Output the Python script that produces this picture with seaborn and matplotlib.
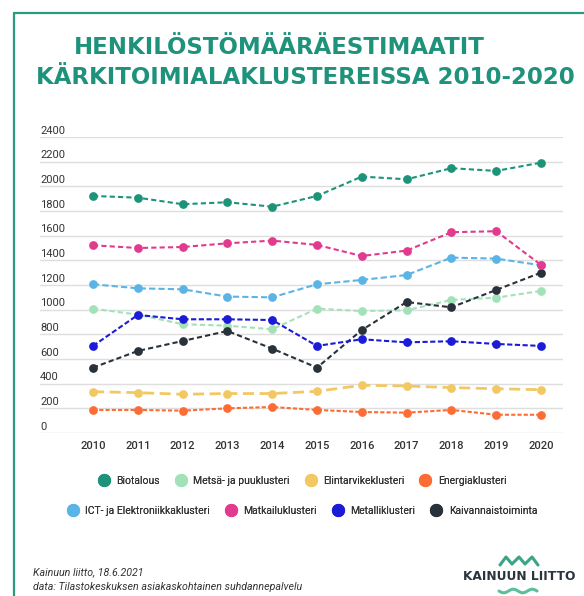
import numpy as np
import pandas as pd
import matplotlib.pyplot as plt
from matplotlib.lines import Line2D
import matplotlib.transforms as mtransforms
import seaborn as sns

years = [2010, 2011, 2012, 2013, 2014, 2015, 2016, 2017, 2018, 2019, 2020]

biotalous = [1922, 1908, 1855, 1871, 1835, 1922, 2079, 2057, 2147, 2125, 2192]
metsa = [1008, 960, 882, 870, 841, 1008, 989, 995, 1079, 1097, 1152]
elintarvike = [335, 327, 314, 320, 320, 338, 387, 381, 368, 359, 351]
energia = [187, 187, 181, 200, 211, 187, 170, 165, 187, 148, 148]
ict = [1206, 1173, 1165, 1106, 1100, 1206, 1241, 1281, 1422, 1414, 1360]
matkailu = [1522, 1500, 1508, 1538, 1560, 1525, 1435, 1479, 1628, 1636, 1363]
metalli = [706, 957, 922, 922, 916, 706, 760, 735, 744, 722, 706]
kaivannais = [530, 665, 746, 827, 684, 530, 835, 1062, 1019, 1160, 1300]

names = ["Biotalous", "Metsä- ja puuklusteri", "Elintarvikeklusteri", "Energiaklusteri",
         "ICT- ja Elektroniikkaklusteri", "Matkailuklusteri", "Metalliklusteri", "Kaivannaistoiminta"]
series = [biotalous, metsa, elintarvike, energia, ict, matkailu, metalli, kaivannais]
colors = ["#1d9479", "#a3e2b9", "#f2c863", "#fd6c35", "#5cb4e6", "#e13a8f", "#1b1bd8", "#29323b"]
dashes = [(2.5, 1.5), (2.5, 1.5), (4, 2), (2, 1), (3, 1.5), (2.5, 1.5), (2.5, 1.2), (2.5, 1.5)]
widths = [1.5, 1.5, 2.0, 1.5, 1.5, 1.5, 1.5, 1.5]
draw_order = [4, 1, 2, 3, 0, 7, 6, 5]

sns.set_style("white")
plt.rcParams["font.family"] = ["Roboto", "DejaVu Sans"]

W, H = 584, 596
fig = plt.figure(figsize=(W / 100, H / 100), dpi=100)
ax = fig.add_axes([40 / W, 1 - 433 / H, 523 / W, 296 / H])

for i in draw_order:
    df = pd.DataFrame({"year": years, "value": series[i]})
    sns.lineplot(data=df, x="year", y="value", ax=ax, color=colors[i], lw=widths[i],
                 marker="o", markersize=6.3, markeredgewidth=0, dashes=False)
    ax.lines[-1].set_dashes(dashes[i])

ax.set_xlim(2010 - 53 / 44.8, 2020 + 22 / 44.8)
ax.set_ylim(0, 2400)
ax.set_xticks(years)
ax.set_xticklabels([str(y) for y in years], fontsize=8, color="#333333", fontweight="medium")
ax.set_yticks(range(0, 2401, 200))
ax.set_yticklabels([])
ax.tick_params(axis="both", length=0)
ax.tick_params(axis="x", pad=6)
ax.yaxis.grid(True, color="#dedede", lw=1)
ax.xaxis.grid(False)
ax.set_xlabel("")
ax.set_ylabel("")
for s in ax.spines.values():
    s.set_visible(False)

trans = mtransforms.blended_transform_factory(ax.transAxes, ax.transData)
for v in range(0, 2401, 200):
    ax.text(0, v + 52, str(v), transform=trans, ha="left", va="center",
            fontsize=8, color="#333333")

# title
teal = "#1f927b"
fig.text(279 / W, 1 - 47 / H, "HENKILÖSTÖMÄÄRÄESTIMAATIT", ha="center", va="center",
         fontsize=16.5, fontweight="bold", color=teal, family="DejaVu Sans")
fig.text(305 / W, 1 - 78 / H, "KÄRKITOIMIALAKLUSTEREISSA 2010-2020", ha="center", va="center",
         fontsize=16.5, fontweight="bold", color=teal, family="DejaVu Sans")

# legend
handles = [Line2D([], [], ls="", marker="o", markersize=9.5, markeredgewidth=0, color=c)
           for c in colors]
for row, y in [(0, 481), (1, 511)]:
    leg = fig.legend(handles[row * 4:row * 4 + 4], names[row * 4:row * 4 + 4], ncol=4,
                     loc="center", bbox_to_anchor=(302 / W, 1 - y / H), frameon=False,
                     fontsize=7.5, handletextpad=0.6, columnspacing=1.4, handlelength=1.2)
    for t in leg.get_texts():
        t.set_color("#333333")
    fig.add_artist(leg)

# footer
fig.text(33 / W, 1 - 572 / H, "Kainuun liitto, 18.6.2021", style="italic", fontsize=7.7,
         color="#333333", va="center")
fig.text(33 / W, 1 - 587 / H, "data: Tilastokeskuksen asiakaskohtainen suhdannepalvelu",
         style="italic", fontsize=7.7, color="#333333", va="center")

# logo
fig.text(519 / W, 1 - 577 / H, "KAINUUN LIITTO", ha="center", va="center", fontsize=8.8,
         fontweight="bold", color="#2b343c", family="DejaVu Sans")
zx = np.array([500, 506, 512, 519, 525, 532, 538])
zy = np.array([565, 557, 564, 557, 564, 557, 565])
fig.add_artist(Line2D(zx / W, 1 - zy / H, color="#3aa585", lw=2.2))
wx = np.linspace(499, 537, 30)
wy = 591 + 1.8 * np.sin((wx - 499) / 38 * 4 * np.pi)
fig.add_artist(Line2D(wx / W, 1 - wy / H, color="#5cbf98", lw=2.2))

# frame
fig.add_artist(Line2D([14 / W, 14 / W], [0, 1 - 13 / H], color="#2a9a80", lw=1.6))
fig.add_artist(Line2D([14 / W, 1], [1 - 13 / H, 1 - 13 / H], color="#2a9a80", lw=1.6))

fig.savefig("out.png", dpi=100)
plt.close(fig)
